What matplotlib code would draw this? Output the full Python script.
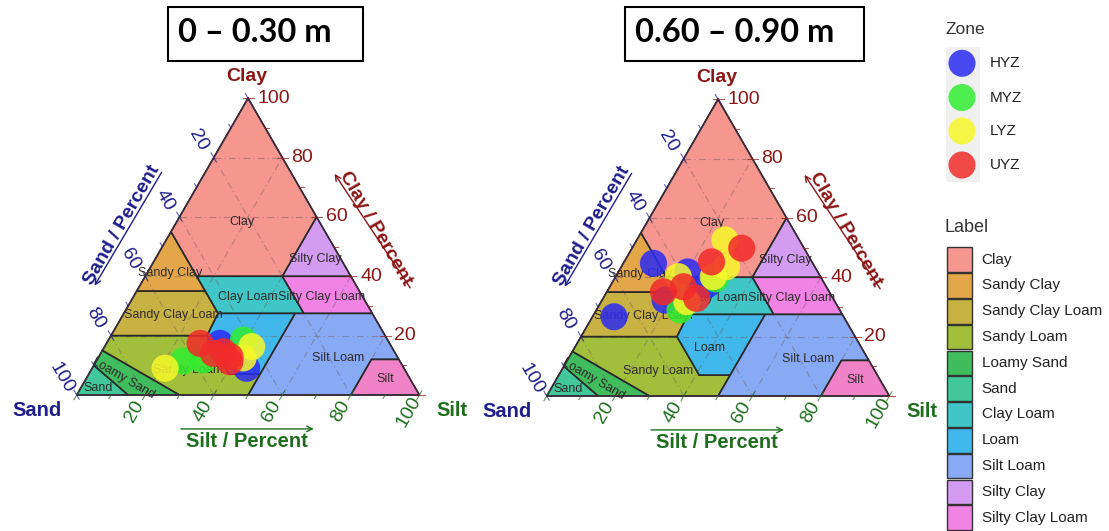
import numpy as np
import matplotlib
matplotlib.use("Agg")
import matplotlib.pyplot as plt
from matplotlib.patches import Polygon, Rectangle

plt.rcParams['font.family'] = ['Liberation Sans', 'DejaVu Sans']

W, H = 1109, 531

# ---------------- data ----------------
zones = ["HYZ", "MYZ", "LYZ", "UYZ"]
zone_colors = ["#2B2BF2", "#30EE30", "#F8F82A", "#F22A2A"]

# 0 - 0.30 m  (clay %, silt %)
top_hyz_clay = [17.4, 9.0]
top_hyz_silt = [33.1, 45.1]
top_myz_clay = [11.5, 11.8, 18.5]
top_myz_silt = [25.4, 31.0, 39.4]
top_lyz_clay = [9.0, 16.3, 12.5]
top_lyz_silt = [21.3, 42.9, 42.3]
top_uyz_clay = [17.4, 14.0, 14.6, 12.9, 11.2]
top_uyz_silt = [27.3, 32.9, 35.5, 38.3, 39.1]

# 0.60 - 0.90 m
sub_hyz_clay = [44.7, 26.7, 41.8, 37.4, 32.3]
sub_hyz_silt = [8.8, 6.3, 20.3, 28.0, 18.4]
sub_myz_clay = [29.0, 39.5]
sub_myz_silt = [24.4, 29.5]
sub_lyz_clay = [52.6, 43.6, 40.2, 40.2, 31.8]
sub_lyz_silt = [25.7, 30.7, 18.3, 28.5, 25.0]
sub_uyz_clay = [49.8, 45.2, 35.1, 36.8, 32.9]
sub_uyz_silt = [32.0, 25.5, 16.5, 21.5, 27.3]

panel_titles = ["0 \u2013 0.30 m", "0.60 \u2013 0.90 m"]

classes = ["Clay", "Sandy Clay", "Sandy Clay Loam", "Sandy Loam", "Loamy Sand",
           "Sand", "Clay Loam", "Loam", "Silt Loam", "Silty Clay", "Silty Clay Loam"]
class_colors = ["#F5968F", "#E3A74A", "#C9B244", "#A2BF3C", "#40BD5C",
                "#42C79B", "#40C6C6", "#40B8EC", "#88AAF5", "#D39CF0", "#F083E4"]
# USDA class polygons as (clay, silt) vertices
class_polys = [
    [(100, 0), (60, 40), (40, 40), (40, 15), (55, 0)],
    [(55, 0), (35, 0), (35, 20), (40, 15)],
    [(35, 0), (20, 0), (20, 28), (27.5, 27.5), (35, 20)],
    [(20, 0), (20, 28), (7, 41), (7, 50), (0, 50), (0, 30), (15, 0)],
    [(15, 0), (0, 30), (0, 15), (10, 0)],
    [(10, 0), (0, 15), (0, 0)],
    [(40, 15), (40, 40), (27.5, 52.5), (27.5, 27.5), (35, 20)],
    [(27.5, 27.5), (27.5, 50), (7, 50), (7, 41), (20, 28)],
    [(27.5, 50), (27.5, 72.5), (12, 88), (12, 80), (0, 80), (0, 50), (7, 50)],
    [(60, 40), (40, 60), (40, 40)],
    [(40, 40), (40, 60), (27.5, 72.5), (27.5, 52.5)],
]
silt_class = [(12, 88), (0, 100), (0, 80), (12, 80)]
# label positions (clay, silt) and rotation
label_texts = ["Clay", "Sandy Clay", "Sandy Clay Loam", "Sandy Loam", "Loamy Sand",
               "Sand", "Clay Loam", "Loam", "Silt Loam", "Silty Clay", "Silty Clay Loam", "Silt"]
label_clay = [58.4, 41.0, 27.0, 8.4, 5.6, 2.3, 33.1, 16.3, 12.6, 45.8, 33.1, 5.3]
label_silt = [18.9, 6.7, 14.7, 28.4, 10.8, 5.2, 33.5, 39.5, 70.0, 46.6, 54.9, 87.3]
label_rot = [0, 0, 0, 0, -30, 0, 0, 0, 0, 0, 0, 0]

tick_values = [20, 40, 60, 80, 100]

SAND_C = "#1E1E8C"
CLAY_C = "#8C1616"
SILT_C = "#1E6E1E"

SQ3 = np.sqrt(3) / 2


def tern(clay, silt):
    clay = np.asarray(clay, float)
    silt = np.asarray(silt, float)
    return silt + clay / 2.0, clay * SQ3


fig = plt.figure(figsize=(W / 100, H / 100), dpi=100)

S = 3.427  # px per percent
vertices = [(76.7, 395.0), (546.7, 396.0)]
XL, YL = (-22, 112), (-22, 100)

panel_data = [
    [(top_hyz_clay, top_hyz_silt), (top_myz_clay, top_myz_silt),
     (top_lyz_clay, top_lyz_silt), (top_uyz_clay, top_uyz_silt)],
    [(sub_hyz_clay, sub_hyz_silt), (sub_myz_clay, sub_myz_silt),
     (sub_lyz_clay, sub_lyz_silt), (sub_uyz_clay, sub_uyz_silt)],
]

for p, (vx, vy) in enumerate(vertices):
    lpx = vx + XL[0] * S
    rpx = vx + XL[1] * S
    bpx = vy - YL[0] * S
    tpx = vy - YL[1] * S
    ax = fig.add_axes([lpx / W, 1 - bpx / H, (rpx - lpx) / W, (bpx - tpx) / H])
    ax.set_xlim(*XL)
    ax.set_ylim(*YL)
    ax.axis('off')

    # class polygons
    for poly, col in zip(class_polys + [silt_class], class_colors + ["#F083C8"]):
        cl = [v[0] for v in poly]
        si = [v[1] for v in poly]
        x, y = tern(cl, si)
        ax.add_patch(Polygon(np.column_stack([x, y]), closed=True, facecolor=col,
                             edgecolor='none', zorder=1, clip_on=False))
    # grid
    for v in [20, 40, 60, 80]:
        for (c0, s0, c1, s1) in [(v, 0, v, 100 - v), (100 - v, 0, 0, 100 - v), (0, v, 100 - v, v)]:
            x, y = tern([c0, c1], [s0, s1])
            ax.plot(x, y, color='#6E5A5A', lw=0.8, ls=(0, (6, 3, 1, 3)), alpha=0.45,
                    zorder=2, clip_on=False)
    # boundaries
    for poly in class_polys + [silt_class]:
        cl = [v[0] for v in poly]
        si = [v[1] for v in poly]
        x, y = tern(cl, si)
        ax.add_patch(Polygon(np.column_stack([x, y]), closed=True, facecolor='none',
                             edgecolor='#2A2A2A', lw=1.1, zorder=3, clip_on=False))
    x, y = tern([100, 0, 0, 100], [0, 0, 100, 0])
    ax.plot(x, y, color='#3A2A3A', lw=1.1, zorder=3, clip_on=False)

    # class labels
    for t, c, s_, r in zip(label_texts, label_clay, label_silt, label_rot):
        x, y = tern(c, s_)
        ax.text(x, y, t, fontsize=9, color='#2E2A2A', ha='center', va='center',
                rotation=r, zorder=4, clip_on=False)

    # ticks
    for v in range(0, 101, 10):
        major = v % 20 == 0
        a, b = (1.4, 1.6) if major else (0.0, 1.2)
        # sand (left edge)
        px, py = tern(100 - v, 0)
        d = np.array([-0.5, SQ3])
        ax.plot([px - a * d[0], px + b * d[0]], [py - a * d[1], py + b * d[1]],
                color=SAND_C, lw=0.8, alpha=0.7, zorder=3, clip_on=False)
        # clay (right edge)
        px, py = tern(v, 100 - v)
        ax.plot([px - a, px + b], [py, py], color=CLAY_C, lw=0.8, alpha=0.7,
                zorder=3, clip_on=False)
        # silt (bottom)
        px, py = tern(0, v)
        d = np.array([-0.5, -SQ3])
        ax.plot([px - a * d[0], px + b * d[0]], [py - a * d[1], py + b * d[1]],
                color=SILT_C, lw=0.8, alpha=0.7, zorder=3, clip_on=False)

    for v in tick_values:
        px, py = tern(100 - v, 0)
        ax.text(px - 4.4, py + 5.0, str(v), fontsize=14, color=SAND_C, rotation=-60,
                ha='center', va='center', rotation_mode='anchor', clip_on=False)
        px, py = tern(v, 100 - v)
        ax.text(px + 2.7, py, str(v), fontsize=14, color=CLAY_C,
                ha='left', va='center', clip_on=False)
        px, py = tern(0, v)
        ax.text(px - 3.0, py - 4.8, str(v), fontsize=14, color=SILT_C, rotation=60,
                ha='center', va='center', rotation_mode='anchor', clip_on=False)

    # vertex labels
    ax.text(49.6, 92.8, "Clay", fontsize=14, fontweight='bold', color=CLAY_C,
            ha='center', va='center', clip_on=False)
    ax.text(-11.7, -4.4, "Sand", fontsize=14.5, fontweight='bold', color=SAND_C,
            ha='center', va='center', clip_on=False)
    ax.text(109.5, -4.4, "Silt", fontsize=14.5, fontweight='bold', color=SILT_C,
            ha='center', va='center', clip_on=False)

    # axis titles with arrows
    ax.text(13.1, 49.6, "Sand / Percent", fontsize=14, fontweight='bold', color=SAND_C,
            rotation=60, ha='center', va='center', rotation_mode='anchor', clip_on=False)
    ax.annotate("", xy=(4.8, 31.2), xytext=(25.2, 65.7),
                arrowprops=dict(arrowstyle='->', color=SAND_C, lw=1.0), annotation_clip=False)
    ax.text(87.05, 48.7, "Clay / Percent", fontsize=14, fontweight='bold', color=CLAY_C,
            rotation=-60, ha='center', va='center', rotation_mode='anchor', clip_on=False)
    ax.annotate("", xy=(74.8, 65.2), xytext=(97.75, 30.6),
                arrowprops=dict(arrowstyle='->', color=CLAY_C, lw=1.0), annotation_clip=False)
    ax.text(49.6, -13.6, "Silt / Percent", fontsize=14.5, fontweight='bold', color=SILT_C,
            ha='center', va='center', clip_on=False)
    ax.annotate("", xy=(70.0, -9.9), xytext=(29.6, -9.9),
                arrowprops=dict(arrowstyle='->', color=SILT_C, lw=1.0), annotation_clip=False)

    # points
    for (cl, si), col in zip(panel_data[p], zone_colors):
        x, y = tern(cl, si)
        ax.scatter(x, y, s=380, color=col, alpha=0.85, edgecolors='none', zorder=5,
                   clip_on=False)

# overlay for titles and legend (pixel coordinates)
lax = fig.add_axes([0, 0, 1, 1])
lax.set_xlim(0, W)
lax.set_ylim(H, 0)
lax.axis('off')
lax.patch.set_alpha(0)

boxes = [(168, 7, 363, 61), (625, 7, 864, 61)]
for (x0, y0, x1, y1), t in zip(boxes, panel_titles):
    lax.add_patch(Rectangle((x0, y0), x1 - x0, y1 - y0, facecolor='white',
                            edgecolor='black', lw=1.5))
    lax.text(x0 + 10, 42, t, fontsize=23.5, fontweight='bold', family='Lato',
             ha='left', va='baseline', color='black')

# Zone legend
lax.text(945, 30, "Zone", fontsize=12.5, color='#333333', ha='left', va='center')
zone_y = [63.3, 97.5, 131.0, 165.0]
lax.add_patch(Rectangle((946, 46.5), 34, 135, facecolor='#F0F0F0', edgecolor='none'))
for zy, z, col in zip(zone_y, zones, zone_colors):
    lax.scatter([962], [zy], s=380, color=col, alpha=0.85, edgecolors='none')
    lax.text(990, zy, z, fontsize=11, color='#222222', ha='left', va='center')

# Label legend
lax.text(945, 228, "Label", fontsize=13, color='#333333', ha='left', va='center')
for k, (c, col) in enumerate(zip(classes, class_colors)):
    top = 246.7 + k * 25.8
    lax.add_patch(Rectangle((946.5, top + 0.6), 25.5, 24.6, facecolor=col,
                            edgecolor='#333333', lw=1.0))
    lax.text(981.5, top + 12.9, c, fontsize=11, color='#222222', ha='left', va='center')

fig.savefig("out.png", dpi=100)
